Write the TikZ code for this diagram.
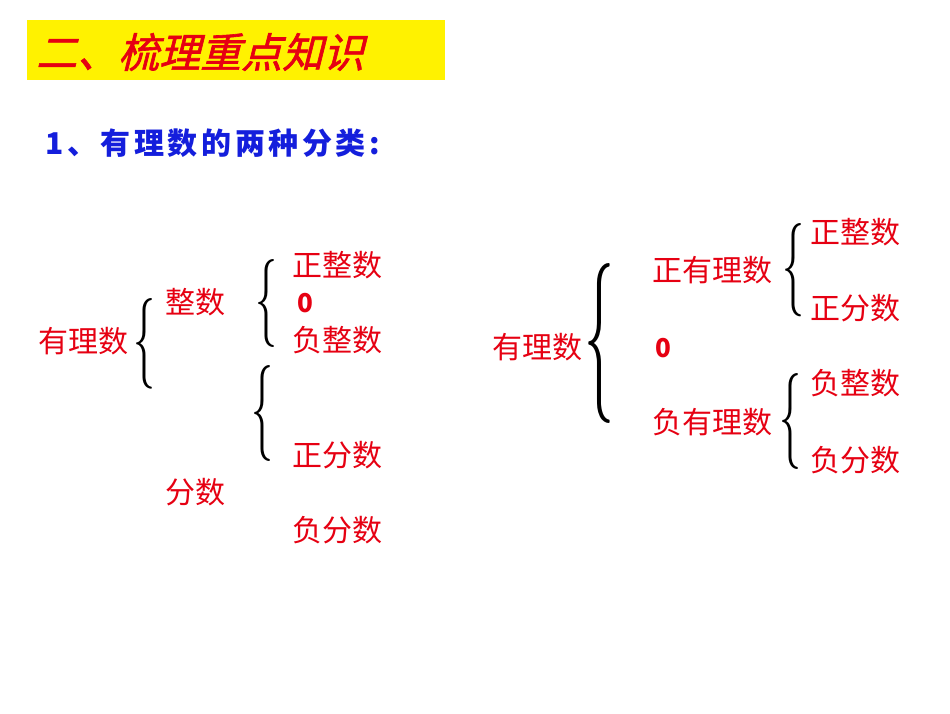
\documentclass[tikz,border=0pt]{standalone}
\usepackage{fontspec}
\usepackage{graphicx}
\newfontfamily\cjk{Noto Sans CJK SC}
\newfontfamily\cjkit[FakeSlant=0.25,FakeBold=1.5]{Noto Sans CJK SC}
\newfontfamily\cjksp[LetterSpace=12]{Noto Sans CJK SC}
\definecolor{tred}{RGB}{230,0,18}
\definecolor{tblue}{RGB}{20,30,220}
\newcommand{\mybrace}[2]{\resizebox{#1pt}{#2pt}{$\{$}}
\begin{document}
\begin{tikzpicture}[x=1pt,y=-1pt,
  lbl/.style={text=tred,font=\cjk\fontsize{30}{32}\selectfont,inner sep=0},
  brc/.style={inner sep=0,anchor=center}]
\useasboundingbox (0,0) rectangle (950,713);
\fill[white] (0,0) rectangle (950,713);
\fill[yellow] (27,20) rectangle (445,80);
\node[text=tred,font=\cjkit\fontsize{41}{44}\selectfont,anchor=west,inner sep=0] (t) at (36,52) {二、梳理重点知识};
\node[text=tblue,font=\cjksp\fontsize{30}{32}\selectfont\bfseries,anchor=west,inner sep=0] (s) at (45,143) {1、有理数的两种分类:};
% left
\node[lbl] (a) at (83,341) {有理数};
\node[lbl] (b) at (195,302) {整数};
\node[lbl] (c) at (337,265) {正整数};
\node[lbl,font=\cjk\fontsize{26}{28}\selectfont\bfseries] (d) at (305,303) {0};
\node[lbl] (e) at (337,340) {负整数};
\node[lbl] (f) at (337,455) {正分数};
\node[lbl] (g) at (195,492) {分数};
\node[lbl] (h) at (337,530) {负分数};
\node[brc] (L1) at (144,344) {\mybrace{22}{68}};
\node[brc] (L2) at (266,303) {\mybrace{22}{66}};
\node[brc] (L3) at (262,413) {\mybrace{22}{72}};
% right
\node[lbl] (A) at (537,347) {有理数};
\node[lbl] (B) at (712,270) {正有理数};
\node[lbl] (C) at (855,232) {正整数};
\node[lbl] (D) at (855,308) {正分数};
\node[lbl,font=\cjk\fontsize{26}{28}\selectfont\bfseries] (E) at (663,348) {0};
\node[lbl] (F) at (712,422) {负有理数};
\node[lbl] (G) at (855,383) {负整数};
\node[lbl] (H) at (855,460) {负分数};
\node[brc] (R1) at (599,343) {\mybrace{30}{120}};
\node[brc] (R2) at (793,270) {\mybrace{22}{70}};
\node[brc] (R3) at (790,421) {\mybrace{22}{72}};
\end{tikzpicture}
\end{document}
